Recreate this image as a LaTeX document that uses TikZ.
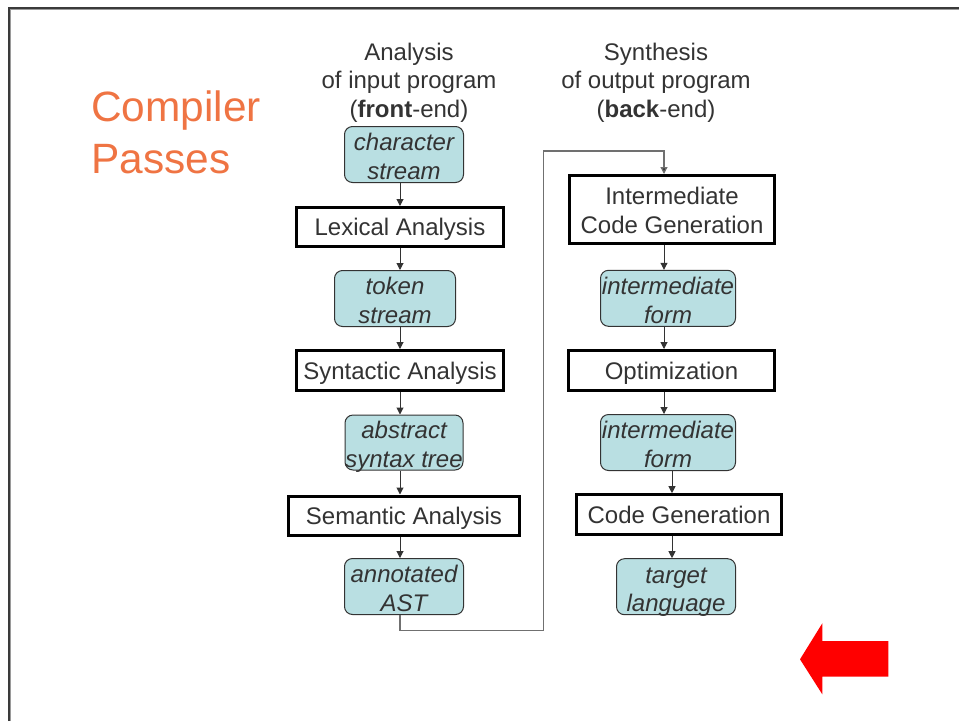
\documentclass[tikz,border=0pt]{standalone}
\usepackage{fontspec}
\setmainfont{Liberation Sans}
\usetikzlibrary{arrows.meta}
\definecolor{txt}{HTML}{333333}
\definecolor{cyanfill}{HTML}{B9DFE2}
\definecolor{ttl}{HTML}{EF7443}
\definecolor{framec}{HTML}{3A3A3A}
\definecolor{framel}{HTML}{9A9A9A}
\definecolor{connc}{HTML}{707070}
\begin{document}
\begin{tikzpicture}[x=1pt,y=-1pt,
  base/.style={font=\fontsize{24}{28.5}\selectfont, text=txt, align=center, inner sep=0pt},
  proc/.style={base, draw=black, line width=3pt, fill=white, text height=17.5pt, text depth=0pt},
  proctwo/.style={base, draw=black, line width=3pt, fill=white, text height=47.5pt, text depth=0pt},
  data/.style={base, font=\fontsize{24}{28.5}\selectfont\itshape, draw=txt, line width=1pt, rounded corners=8pt, fill=cyanfill, text height=49.7pt, text depth=0pt},
  arr/.style={draw=txt, line width=1pt, -{Triangle[width=7pt,length=7pt]}},
  longconn/.style={draw=connc, line width=1.3pt, -{Triangle[width=7pt,length=7pt,fill=txt]}},
  titlestyle/.style={font=\fontsize{42.4}{51}\selectfont, text=ttl, inner sep=0pt, anchor=base west},
]
\useasboundingbox (0,0) rectangle (959,721);
% frame
\draw[framel, line width=1pt] (10.8,721) -- (10.8,9.8) -- (959,9.8);
\draw[framec, line width=2.6pt] (8.8,721) -- (8.8,7.8) -- (959,7.8);

% title
\node[titlestyle] (title1) at (91,121.7) {Compiler};
\node[titlestyle] (title2) at (91,173) {Passes};

% headers
\node[base, anchor=north] (hdrL) at (409,42.5) {Analysis\\of input program\\(\textbf{front}-end)};
\node[base, anchor=north] (hdrR) at (656,42.5) {Synthesis\\of output program\\(\textbf{back}-end)};

% left column
\node[data, minimum width=119pt, minimum height=56pt] (cs) at (404,154.5) {character\\stream};
\node[proc, minimum width=207pt, minimum height=39pt] (lex) at (400,227) {Lexical Analysis};
\node[data, minimum width=121pt, minimum height=56pt] (ts) at (395,298.5) {token\\stream};
\node[proc, minimum width=207pt, minimum height=40pt] (syn) at (400,370.5) {Syntactic Analysis};
\node[data, minimum width=118pt, minimum height=55pt] (ast) at (404,442.5) {abstract\\syntax tree};
\node[proc, minimum width=231pt, minimum height=39pt] (sem) at (404,515.5) {Semantic Analysis};
\node[data, minimum width=119pt, minimum height=56pt] (aast) at (404,586.5) {annotated\\AST};

% right column
\node[proctwo, minimum width=205pt, minimum height=68pt] (icg) at (672,209.5) {Intermediate\\Code Generation};
\node[data, minimum width=135pt, minimum height=56pt] (if1) at (668,298.3) {intermediate\\form};
\node[proc, minimum width=206pt, minimum height=40pt] (opt) at (671.5,370.5) {Optimization};
\node[data, minimum width=135pt, minimum height=56pt] (if2) at (668,442.5) {intermediate\\form};
\node[proc, minimum width=205pt, minimum height=40pt] (cg) at (679,514.7) {Code Generation};
\node[data, minimum width=119pt, minimum height=56pt] (tl) at (676,586.7) {target\\language};

% column guides
\coordinate (colL) at (400,0);
\coordinate (colR) at (664,0);
\coordinate (colR2) at (672,0);
\coordinate (bend1) at (543.5,630.5);
\coordinate (bend2) at (543.5,151);

% arrows left
\draw[arr] (cs.south -| colL) -- (lex.north -| colL);
\draw[arr] (lex.south -| colL) -- (ts.north -| colL);
\draw[arr] (ts.south -| colL) -- (syn.north -| colL);
\draw[arr] (syn.south -| colL) -- (ast.north -| colL);
\draw[arr] (ast.south -| colL) -- (sem.north -| colL);
\draw[arr] (sem.south -| colL) -- (aast.north -| colL);

% long connector
\draw[longconn] (aast.south -| colL) |- (bend1) -- (bend2) -| (icg.north -| colR);

% arrows right
\draw[arr] (icg.south -| colR) -- (if1.north -| colR);
\draw[arr] (if1.south -| colR) -- (opt.north -| colR);
\draw[arr] (opt.south -| colR) -- (if2.north -| colR);
\draw[arr] (if2.south -| colR2) -- (cg.north -| colR2);
\draw[arr] (cg.south -| colR2) -- (tl.north -| colR2);

% red arrow
\fill[red] (800,659.3) -- (822.3,623.3) -- (822.3,641) -- (888.3,641) -- (888.3,676.7) -- (822.3,676.7) -- (822.3,694.3) -- cycle;
\end{tikzpicture}
\end{document}
